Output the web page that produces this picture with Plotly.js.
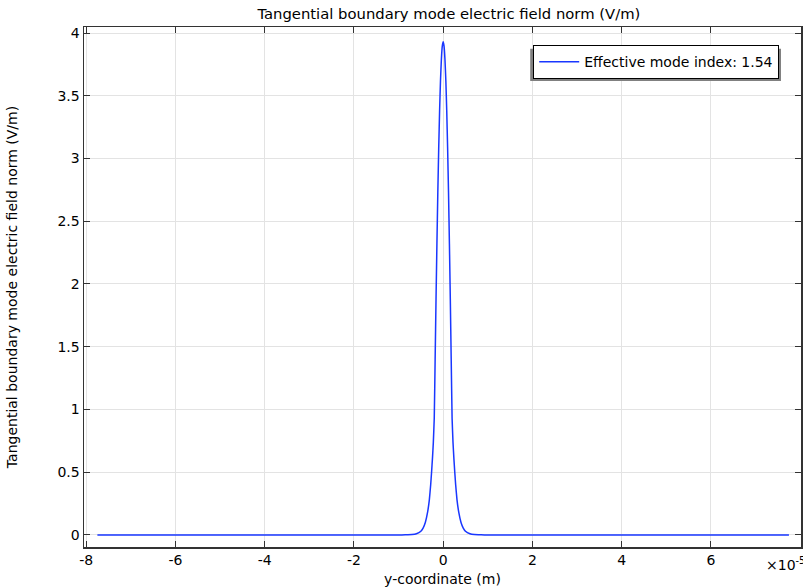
<!DOCTYPE html>
<html>
<head>
<meta charset="utf-8">
<script src="https://cdn.plot.ly/plotly-3.0.1.min.js"></script>
<style>html,body{margin:0;padding:0;background:#fff;}#chart{width:803px;height:588px;}</style>
</head>
<body>
<div id="chart"></div>
<script>
// y-coordinate in units of 1e-5 m (right half, mirrored below)
const yCoordHalf = [0, 0.02, 0.04, 0.06, 0.08, 0.10, 0.12, 0.14, 0.16, 0.18, 0.20, 0.22, 0.24, 0.26, 0.28, 0.31, 0.35, 0.40, 0.45, 0.50, 0.60, 0.70, 0.85, 1.0, 7.75];
// Tangential boundary mode electric field norm (V/m)
const fieldNormHalf = [3.93, 3.895, 3.79, 3.62, 3.38, 3.08, 2.73, 2.32, 1.88, 1.40, 0.93, 0.74, 0.61, 0.5, 0.40, 0.28, 0.18, 0.10, 0.055, 0.03, 0.01, 0.003, 0.001, 0, 0];
const seriesName = 'Effective mode index: 1.54';
const xTicks = [-8, -6, -4, -2, 0, 2, 4, 6];
const yTicks = [0, 0.5, 1, 1.5, 2, 2.5, 3, 3.5, 4];

const xs = yCoordHalf.slice(1).reverse().map(v => -v).concat(yCoordHalf);
const ys = fieldNormHalf.slice(1).reverse().concat(fieldNormHalf);

const FS = 14;
const font = {family: 'DejaVu Sans, sans-serif', size: FS, color: '#000'};

const trace = {
  x: xs, y: ys, type: 'scatter', mode: 'lines', name: seriesName,
  line: {color: 'rgb(25,55,255)', width: 1.5, shape: 'spline', smoothing: 0.3},
  showlegend: true
};

const layout = {
  width: 803, height: 588,
  margin: {l: 83.5, r: 2, t: 27, b: 41},
  paper_bgcolor: '#fff', plot_bgcolor: '#fff',
  font: font,
  showlegend: true,
  title: {text: 'Tangential boundary mode electric field norm (V/m)', font: {family: font.family, size: 14.8}, x: 0.559, xanchor: 'center', xref: 'container', y: 12, yanchor: 'middle', yref: 'container'},
  xaxis: {
    range: [-8.05, 8.02], tickvals: xTicks, ticktext: xTicks.map(String),
    showgrid: true, gridcolor: '#e3e3e3', gridwidth: 1, zeroline: false,
    showline: true, linecolor: '#333', linewidth: 1.5, mirror: 'ticks',
    ticks: 'inside', ticklen: 6, tickcolor: '#333',
    tickfont: {family: font.family, size: FS},
    title: {text: 'y-coordinate (m)', font: {family: font.family, size: FS}, standoff: 7}
  },
  yaxis: {
    range: [-0.096, 4.048], tickvals: yTicks, ticktext: yTicks.map(String),
    showgrid: true, gridcolor: '#e3e3e3', gridwidth: 1, zeroline: false,
    showline: true, linecolor: '#333', linewidth: 1.5, mirror: 'ticks',
    ticks: 'inside', ticklen: 6, tickcolor: '#333',
    tickfont: {family: font.family, size: FS},
    title: {text: 'Tangential boundary mode electric field norm (V/m)', font: {family: font.family, size: FS}, standoff: 36}
  },
  legend: {
    x: 0.6265, y: 0.965, xanchor: 'left', yanchor: 'top',
    bgcolor: '#fff', bordercolor: '#000', borderwidth: 1,
    font: {family: font.family, size: FS}, itemwidth: 40
  },
  shapes: [
    {type: 'rect', xref: 'paper', yref: 'paper', x0: 0.6223, x1: 0.9721, y0: 0.896, y1: 0.958,
     fillcolor: '#808080', line: {width: 0}, layer: 'above'}
  ],
  annotations: [
    {text: '×10<sup>-5</sup>', xref: 'paper', yref: 'paper', x: 0.948, y: -0.012, xanchor: 'left', yanchor: 'top',
     showarrow: false, font: {family: font.family, size: FS}}
  ]
};

Plotly.newPlot('chart', [trace], layout, {displayModeBar: false, staticPlot: true});
</script>
</body>
</html>
